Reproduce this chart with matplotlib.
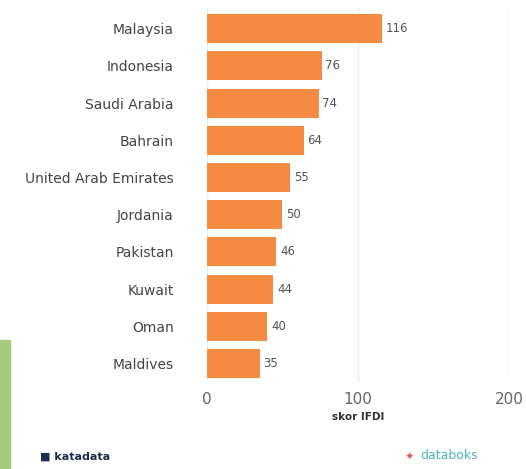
import matplotlib
matplotlib.use('Agg')
from matplotlib import pyplot as plt
from matplotlib.patches import Rectangle

countries = ['Malaysia', 'Indonesia', 'Saudi Arabia', 'Bahrain', 'United Arab Emirates',
             'Jordania', 'Pakistan', 'Kuwait', 'Oman', 'Maldives']
scores = [116, 76, 74, 64, 55, 50, 46, 44, 40, 35]
xticks = [0, 100, 200]

bar_color = '#F58A42'

fig = plt.figure(figsize=(5.26, 4.69), dpi=100)
ax = fig.add_axes([0.3935, 0.1855, 0.574, 0.797])

y = list(range(len(countries)))
ax.barh(y, scores, height=0.78, color=bar_color)

for yi, v in zip(y, scores):
    ax.text(v + 2.5, yi, str(v), va='center', ha='left', fontsize=8.5, color='#555555')

ax.set_ylim(9.5, -0.55)
ax.set_xlim(0, 200)
ax.set_yticks(y)
ax.set_yticklabels(countries, fontsize=10, color='#444444')
ax.set_xticks(xticks)
ax.set_xticklabels([str(t) for t in xticks], fontsize=11, color='#666666')
ax.tick_params(axis='both', length=0)
ax.tick_params(axis='y', pad=24)
ax.tick_params(axis='x', pad=7)
ax.set_xlabel('skor IFDI', fontsize=7.5, fontweight='bold', color='#333333', labelpad=4)

ax.grid(axis='x', color='#eeeeee', linewidth=1)
ax.set_axisbelow(True)
for s in ax.spines.values():
    s.set_visible(False)

# green strip on the left edge
fig.patches.append(Rectangle((0, 0), 10 / 526, 129 / 469, transform=fig.transFigure,
                             color='#A9C97C', zorder=0))

# footer logos
fig.text(40 / 526, 7 / 469, '\u25A0 katadata', fontsize=8, fontweight='bold',
         color='#1d2b4f', ha='left', va='bottom')
fig.text(405 / 526, 7 / 469, '\u2726', fontsize=8, color='#e05a5a', ha='left', va='bottom')
fig.text(420 / 526, 7 / 469, 'databoks', fontsize=9, color='#4bb6b0', ha='left', va='bottom')

fig.savefig('out.png', dpi=100)
